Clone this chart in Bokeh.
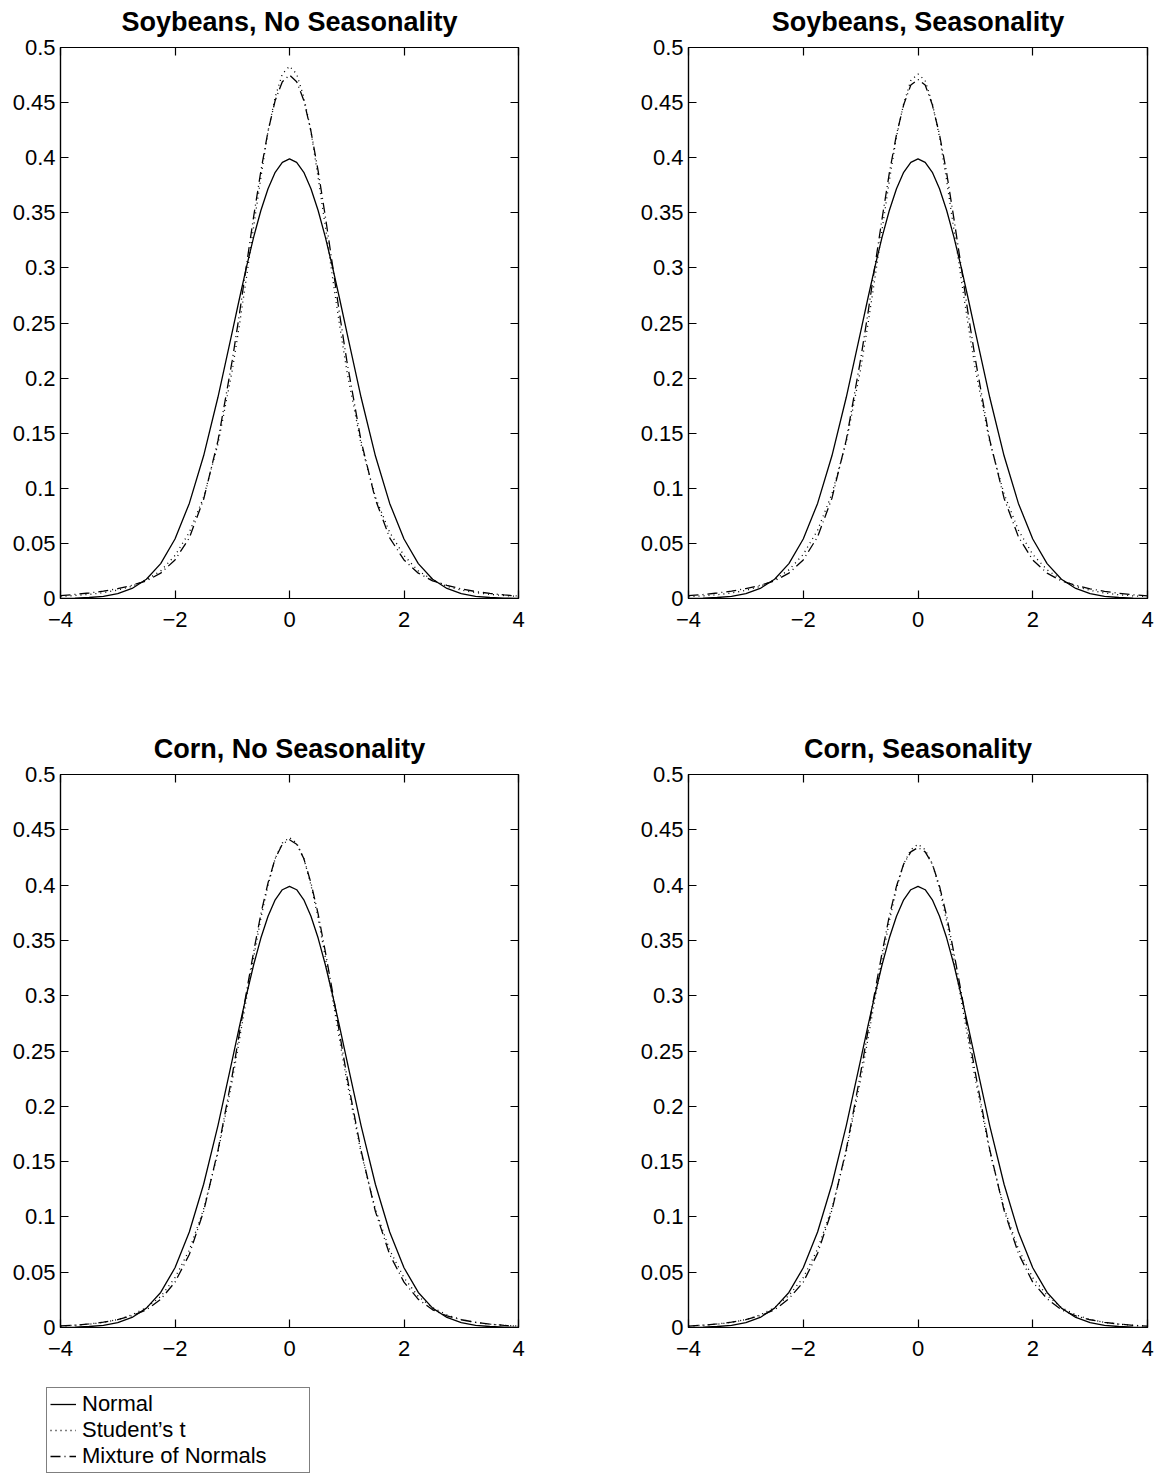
from bokeh.plotting import figure
from bokeh.models import (LinearAxis, FixedTicker, Range1d, Legend, LegendItem,
                          CustomJSTickFormatter, Spacer, ColumnDataSource)
from bokeh.layouts import column, row
from bokeh.embed import file_html
from bokeh.resources import INLINE

# ---------------- data ----------------
X = [-4.0, -3.75, -3.5, -3.25, -3.0, -2.75, -2.5, -2.25, -2.0, -1.75, -1.5, -1.25, -1.0,
     -0.875, -0.75, -0.625, -0.5, -0.375, -0.25, -0.125, 0.0, 0.125, 0.25, 0.375, 0.5,
     0.625, 0.75, 0.875, 1.0, 1.25, 1.5, 1.75, 2.0, 2.25, 2.5, 2.75, 3.0, 3.25, 3.5, 3.75, 4.0]

NORMAL = [0.0001, 0.0004, 0.0009, 0.0020, 0.0044, 0.0091, 0.0175, 0.0317, 0.0540, 0.0863,
          0.1295, 0.1826, 0.2420, 0.2720, 0.3011, 0.3282, 0.3521, 0.3718, 0.3867, 0.3958,
          0.3989, 0.3958, 0.3867, 0.3718, 0.3521, 0.3282, 0.3011, 0.2720, 0.2420, 0.1826,
          0.1295, 0.0863, 0.0540, 0.0317, 0.0175, 0.0091, 0.0044, 0.0020, 0.0009, 0.0004, 0.0001]

SOY_NS_T = [0.0019, 0.0027, 0.0037, 0.0053, 0.0077, 0.011, 0.017, 0.025, 0.039, 0.060,
            0.092, 0.140, 0.207, 0.248, 0.292, 0.338, 0.382, 0.424, 0.455, 0.476,
            0.483, 0.476, 0.455, 0.424, 0.382, 0.338, 0.292, 0.248, 0.207, 0.140,
            0.092, 0.060, 0.039, 0.025, 0.017, 0.011, 0.0077, 0.0053, 0.0037, 0.0027, 0.0019]
SOY_NS_MIX = [0.0026, 0.0037, 0.0050, 0.0066, 0.0089, 0.012, 0.016, 0.023, 0.035, 0.055,
              0.090, 0.143, 0.216, 0.258, 0.303, 0.347, 0.388, 0.424, 0.452, 0.469,
              0.475, 0.469, 0.452, 0.424, 0.388, 0.347, 0.303, 0.258, 0.216, 0.143,
              0.090, 0.055, 0.035, 0.023, 0.016, 0.012, 0.0087, 0.0063, 0.0046, 0.0032, 0.0022]

SOY_S_T = [0.0017, 0.0024, 0.0034, 0.0050, 0.0074, 0.011, 0.017, 0.026, 0.040, 0.062,
           0.095, 0.142, 0.208, 0.248, 0.291, 0.335, 0.379, 0.419, 0.449, 0.470,
           0.476, 0.470, 0.449, 0.419, 0.379, 0.335, 0.291, 0.248, 0.208, 0.142,
           0.095, 0.062, 0.040, 0.026, 0.017, 0.011, 0.0074, 0.0050, 0.0034, 0.0024, 0.0017]
SOY_S_MIX = [0.0026, 0.0036, 0.0050, 0.0067, 0.0090, 0.012, 0.016, 0.023, 0.035, 0.056,
             0.091, 0.144, 0.217, 0.258, 0.302, 0.345, 0.386, 0.421, 0.448, 0.466,
             0.471, 0.466, 0.448, 0.421, 0.386, 0.345, 0.302, 0.258, 0.217, 0.144,
             0.091, 0.056, 0.035, 0.023, 0.016, 0.012, 0.0088, 0.0065, 0.0048, 0.0034, 0.0024]

CORN_NS_T = [0.0013, 0.0020, 0.0030, 0.0046, 0.0072, 0.0114, 0.018, 0.028, 0.045, 0.070,
             0.107, 0.158, 0.223, 0.260, 0.298, 0.335, 0.370, 0.400, 0.424, 0.438,
             0.443, 0.438, 0.424, 0.400, 0.370, 0.335, 0.298, 0.260, 0.223, 0.158,
             0.107, 0.070, 0.045, 0.028, 0.018, 0.0114, 0.0072, 0.0046, 0.0030, 0.0020, 0.0013]
CORN_NS_MIX = [0.0014, 0.0021, 0.0032, 0.0048, 0.0071, 0.0106, 0.016, 0.0255, 0.041, 0.066,
               0.105, 0.160, 0.228, 0.266, 0.304, 0.340, 0.374, 0.402, 0.424, 0.437,
               0.441, 0.437, 0.424, 0.402, 0.374, 0.340, 0.304, 0.266, 0.228, 0.160,
               0.105, 0.066, 0.041, 0.0255, 0.016, 0.0105, 0.0070, 0.0047, 0.0030, 0.0019, 0.0012]

CORN_S_T = [0.0013, 0.0020, 0.0030, 0.0046, 0.0072, 0.0114, 0.018, 0.029, 0.045, 0.071,
            0.108, 0.159, 0.224, 0.260, 0.297, 0.333, 0.367, 0.397, 0.419, 0.432,
            0.437, 0.432, 0.419, 0.397, 0.367, 0.333, 0.297, 0.260, 0.224, 0.159,
            0.108, 0.071, 0.045, 0.029, 0.018, 0.0114, 0.0072, 0.0046, 0.0030, 0.0020, 0.0013]
CORN_S_MIX = [0.0013, 0.0021, 0.0032, 0.0048, 0.0071, 0.0106, 0.016, 0.026, 0.041, 0.067,
              0.106, 0.161, 0.230, 0.267, 0.304, 0.339, 0.372, 0.399, 0.419, 0.430,
              0.434, 0.430, 0.419, 0.399, 0.372, 0.339, 0.304, 0.267, 0.230, 0.161,
              0.106, 0.067, 0.041, 0.026, 0.016, 0.0105, 0.0070, 0.0047, 0.0031, 0.0020, 0.0012]

TITLES = ["Soybeans, No Seasonality", "Soybeans, Seasonality",
          "Corn, No Seasonality", "Corn, Seasonality"]
X_TICKS = [-4, -2, 0, 2, 4]
Y_TICKS = [0, 0.05, 0.1, 0.15, 0.2, 0.25, 0.3, 0.35, 0.4, 0.45, 0.5]
LEGEND_LABELS = ["Normal", "Student\u2019s t", "Mixture of Normals"]

FONT = "Liberation Sans"
TICK_SIZE = "22px"
DOT = "1 4"
DASHDOT = "10 4 1 4"
LW = 1.3

xfmt_code = "return tick < 0 ? '\u2212' + (-tick) : tick.toString();"
yfmt_code = "return (Math.round(tick*100)/100).toString();"
blank_code = "return '';"


def style_axis(ax, ticks, code, standoff):
    ax.ticker = FixedTicker(ticks=ticks)
    ax.formatter = CustomJSTickFormatter(code=code)
    ax.major_tick_in = 8
    ax.major_tick_out = 0
    ax.minor_tick_in = 0
    ax.minor_tick_out = 0
    ax.axis_line_color = "black"
    ax.axis_line_width = 1.2
    ax.major_tick_line_color = "black"
    ax.major_tick_line_width = 1.2
    ax.major_label_text_font = FONT
    ax.major_label_text_font_size = TICK_SIZE
    ax.major_label_text_color = "black"
    ax.major_label_standoff = standoff


def panel(title, t_vals, mix_vals, width, height, left, right):
    p = figure(width=width, height=height, x_range=Range1d(-4, 4), y_range=Range1d(0, 0.5),
               output_backend="svg", toolbar_location=None,
               min_border_left=left, min_border_right=right,
               min_border_top=48, min_border_bottom=38)
    p.title.text = title
    p.title.align = "center"
    p.title.text_font = FONT
    p.title.text_font_size = "27px"
    p.title.text_font_style = "bold"
    p.title.text_color = "black"
    p.title.standoff = 22
    p.xgrid.visible = False
    p.ygrid.visible = False
    p.outline_line_color = "black"
    p.outline_line_width = 1.2
    style_axis(p.xaxis[0], X_TICKS, xfmt_code, 13)
    style_axis(p.yaxis[0], Y_TICKS, yfmt_code, 5)
    top = LinearAxis()
    style_axis(top, X_TICKS, blank_code, 0)
    p.add_layout(top, "above")
    rgt = LinearAxis()
    style_axis(rgt, Y_TICKS, blank_code, 0)
    p.add_layout(rgt, "right")
    src = ColumnDataSource(dict(x=X, n=NORMAL, t=t_vals, m=mix_vals))
    p.line("x", "n", source=src, line_color="black", line_width=LW)
    p.line("x", "t", source=src, line_color="black", line_width=LW, line_dash=DOT)
    p.line("x", "m", source=src, line_color="black", line_width=LW, line_dash=DASHDOT)
    return p


p1 = panel(TITLES[0], SOY_NS_T, SOY_NS_MIX, 558, 643, 60, 40)
p2 = panel(TITLES[1], SOY_S_T, SOY_S_MIX, 597, 643, 130, 8)
p3 = panel(TITLES[2], CORN_NS_T, CORN_NS_MIX, 558, 645, 60, 40)
p4 = panel(TITLES[3], CORN_S_T, CORN_S_MIX, 597, 645, 130, 8)

lf = figure(width=558, height=110, x_range=Range1d(0, 1), y_range=Range1d(0, 1),
            x_axis_type=None, y_axis_type=None, output_backend="svg",
            toolbar_location=None, min_border=0, outline_line_color=None)
lf.xgrid.visible = False
lf.ygrid.visible = False
offscreen = ColumnDataSource(dict(x=[5, 6], y=[5, 6]))
r1 = lf.line("x", "y", source=offscreen, line_color="black", line_width=LW)
r2 = lf.line("x", "y", source=offscreen, line_color="black", line_width=LW, line_dash=DOT)
r3 = lf.line("x", "y", source=offscreen, line_color="black", line_width=LW, line_dash=DASHDOT)
leg = Legend(items=[LegendItem(label=LEGEND_LABELS[0], renderers=[r1]),
                    LegendItem(label=LEGEND_LABELS[1], renderers=[r2]),
                    LegendItem(label=LEGEND_LABELS[2], renderers=[r3])],
             location=(46, 2))
leg.label_text_font = FONT
leg.label_text_font_size = "22px"
leg.label_text_color = "black"
leg.label_height = 24
leg.glyph_height = 24
leg.glyph_width = 26
leg.label_standoff = 6
leg.label_width = 224
leg.spacing = 0
leg.padding = 3
leg.margin = 0
leg.border_line_color = "black"
leg.border_line_width = 1.2
leg.background_fill_color = "white"
leg.background_fill_alpha = 1
lf.add_layout(leg)

layout = column(row(p1, p2), Spacer(height=84), row(p3, p4), lf,
                styles={"margin-top": "-7px"})

open("out.html", "w").write(file_html(layout, INLINE))
